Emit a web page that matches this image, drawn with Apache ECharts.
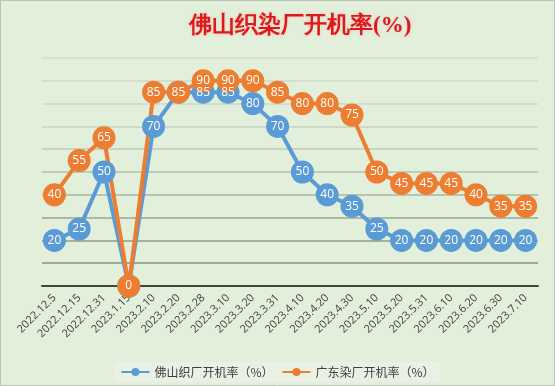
<!DOCTYPE html>
<html><head><meta charset="utf-8">
<script src="https://cdn.jsdelivr.net/npm/echarts@6/dist/echarts.min.js"></script>
<style>html,body{margin:0;padding:0;background:#e2efda}#c{width:555px;height:386px}</style>
</head><body><div id="c"></div>
<script>
var categories = ['2022.12.5','2022.12.15','2022.12.31','2023.1.15','2023.2.10','2023.2.20','2023.2.28','2023.3.10','2023.3.20','2023.3.31','2023.4.10','2023.4.20','2023.4.30','2023.5.10','2023.5.20','2023.5.31','2023.6.10','2023.6.20','2023.6.30','2023.7.10'];
var foshan = [20,25,50,0,70,85,85,85,80,70,50,40,35,25,20,20,20,20,20,20];
var guangdong = [40,55,65,0,85,85,90,90,90,85,80,80,75,50,45,45,45,40,35,35];
var seriesNames = ['佛山织厂开机率（%）','广东染厂开机率（%）'];
var titleText = '佛山织染厂开机率(%)';

var chart = echarts.init(document.getElementById('c'), null, {renderer:'canvas'});
function mk(name, data, color, other){
  return {
    name:name, type:'line', data:data,
    symbol:'circle', symbolSize:23,
    lineStyle:{color:color, width:4},
    itemStyle:{color:color},
    label:{show:true, position:'inside', color:'#fff', fontSize:12, fontFamily:'"Open Sans", sans-serif',
      formatter:function(p){ return (other && other[p.dataIndex] === p.value) ? '' : String(p.value); }},
    emphasis:{disabled:true}, animation:false
  };
}
chart.setOption({
  backgroundColor:'#e2efda',
  animation:false,
  graphic:[{type:'rect', shape:{x:0.5,y:0.5,width:554,height:385}, style:{fill:'none', stroke:'#b9c2b4', lineWidth:1}, silent:true}],
  title:{text:titleText, left:184, top:10, textStyle:{color:'#dd1a1a', fontSize:23, fontWeight:'bold', fontFamily:'serif', textShadowColor:'rgba(255,180,180,0.8)', textShadowBlur:3}},
  legend:{bottom:4, left:'center', itemWidth:28, itemHeight:10, itemGap:8,
    backgroundColor:'#e9f1e4', padding:[4,6],
    textStyle:{color:'#404040', fontSize:12, fontFamily:'"Noto Sans CJK SC", sans-serif'},
    data:seriesNames},
  grid:{left:42, right:17, top:58, bottom:100},
  xAxis:{type:'category', data:categories, boundaryGap:true,
    axisLine:{lineStyle:{color:'#3a4a33', width:2}},
    axisTick:{show:false},
    axisLabel:{rotate:45, color:'#404040', fontSize:11, margin:10, interval:0, fontFamily:'"Open Sans", sans-serif'}},
  yAxis:{type:'value', min:0, max:100, interval:10,
    axisLabel:{show:false}, axisLine:{show:false}, axisTick:{show:false},
    splitLine:{lineStyle:{width:1.5, color:['#3a4a33','#85957b','#8e9e85','#9aa991','#a8b69f','#b4c1ab','#bfcab7','#c7d2c0','#ccd7c6','#cfd9ca','#d3ddcd']}}},
  series:[mk(seriesNames[0], foshan, '#5b9bd5', guangdong), mk(seriesNames[1], guangdong, '#ed7d31', null)]
});
</script></body></html>
